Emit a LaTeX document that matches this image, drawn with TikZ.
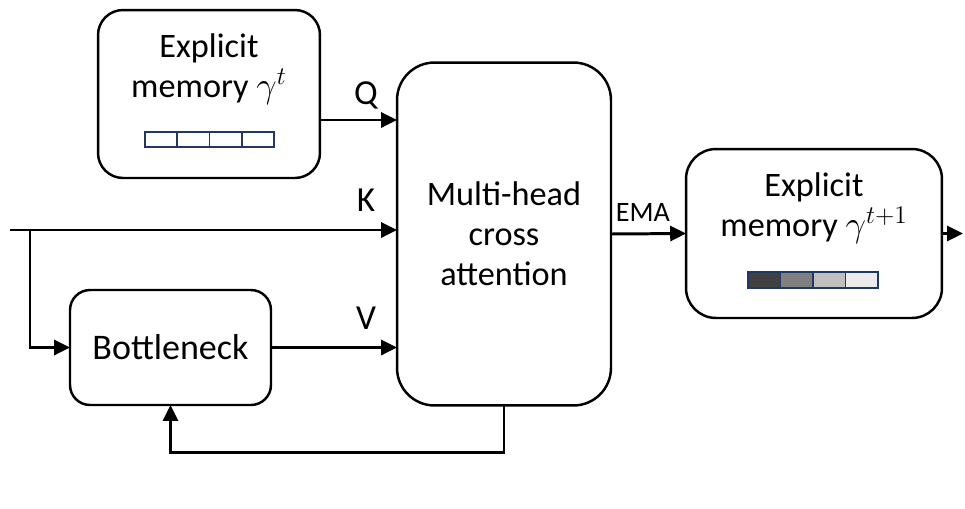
\documentclass[tikz,border=0pt]{standalone}
\usepackage{fontspec}
\setmainfont{Carlito}
\usetikzlibrary{arrows.meta,positioning}

\definecolor{cellline}{RGB}{31,56,100}
\tikzset{
  blk/.style={draw,line width=1.4pt,rounded corners=#1,fill=white,inner sep=0pt,outer sep=0pt},
  blk/.default=10pt,
  conn/.style={line width=1.7pt,-{Triangle[length=9pt,width=8.5pt]}},
  txt/.style={font=\fontsize{19.5}{22.7}\selectfont,align=center},
  lbl/.style={font=\fontsize{20}{22}\selectfont},
  cell/.style={draw=cellline,line width=0.9pt},
}

\begin{document}
\begin{tikzpicture}[x=0.02cm,y=-0.02cm]
        \useasboundingbox (0,0) rectangle (965,508);
        % boxes
        \node[blk=0.5cm,minimum width=4.44cm,minimum height=3.36cm] (mem) at (209,94) {};
        \node[blk=0.75cm,minimum width=4.28cm,minimum height=6.86cm,txt] (mha) at (504,234) {Multi-head\\cross\\attention};
        \node[blk=0.6cm,minimum width=5.12cm,minimum height=3.38cm] (memout) at (814,233.5) {};
        \node[blk=0.4cm,minimum width=4.02cm,minimum height=2.3cm,txt,font=\fontsize{20.5}{23}\selectfont] (bott) at (170.5,347.5) {Bottleneck};
        \node[txt] (memtxt) at (209,69) {Explicit\\memory $\gamma^{t}$};
        \node[txt] (memouttxt) at (814,208) {Explicit\\memory $\gamma^{t+1}$};
        % memory cells
        \foreach \i in {0,...,3}
          \draw[cell,fill=white] (145+\i*32.25,132) rectangle (145+\i*32.25+32.25,147);
        \foreach \i/\c in {0/black!75,1/black!50,2/black!25,3/black!8}
          \draw[cell,fill=\c] (748+\i*32.5,272) rectangle (748+\i*32.5+32.5,288);
        % connectors
        \coordinate (in) at (10,230);
        \coordinate (split) at (30,230);
        \coordinate (qy) at (350,120);
        \coordinate (fb) at (300,452);
        \coordinate (outend) at (963,233.5);
        \draw[conn] (mem.east |- qy) -- (mha.west |- qy);
        \draw[conn] (in) -- (in -| mha.west);
        \draw[conn] (split) |- (bott.west);
        \draw[conn] (bott.east) -- (bott.east -| mha.west);
        \draw[conn] (mha.south) |- (fb) -| (bott.south);
        \draw[conn] (mha.east) -- (memout.west);
        \draw[conn] (memout.east) -- (outend);
        % labels
        \node[lbl] (q) at (366,95) {Q};
        \node[lbl] (k) at (366,200) {K};
        \node[lbl] (v) at (366,318) {V};
        \node[font=\fontsize{16}{18}\selectfont] (ema) at (643,212) {EMA};
      \end{tikzpicture}
\end{document}
